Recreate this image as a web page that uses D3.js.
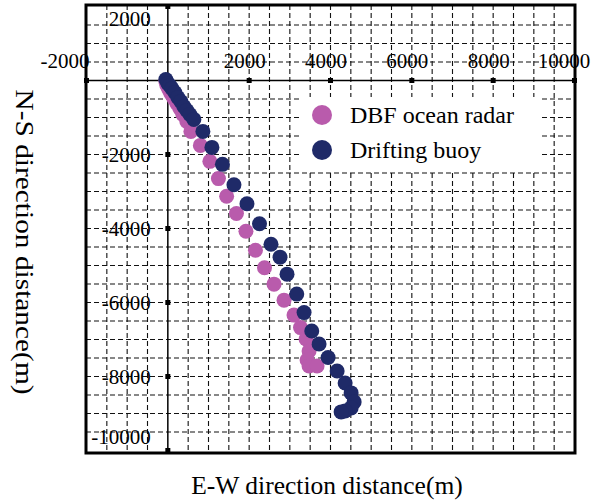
<!DOCTYPE html>
<html>
<head>
<meta charset="utf-8">
<script src="https://cdn.jsdelivr.net/npm/d3@7"></script>
<style>
  html, body { margin: 0; padding: 0; background: #fff; }
  svg { display: block; }
  text { font-family: "Liberation Serif", "Times New Roman", serif; fill: #000; }
</style>
</head>
<body>
<svg id="chart" width="594" height="504"></svg>
<script>
// ---- data (metres) ----
const seriesNames = ["DBF ocean radar", "Drifting buoy"];
const radarX = [-49, -25, 25, 74, 148, 222, 296, 369, 468, 567, 800, 1034, 1244, 1446, 1687, 1921, 2155, 2377, 2611, 2857, 3103, 3263, 3399, 3473, 3424, 3473, 3670];
const radarY = [-27, -135, -243, -351, -486, -621, -755, -917, -1106, -1376, -1754, -2185, -2652, -3130, -3596, -4074, -4587, -5059, -5504, -5936, -6340, -6678, -6988, -7311, -7554, -7716, -7716];
const buoyX = [-49, 0, 49, 99, 172, 246, 320, 394, 468, 542, 640, 862, 1084, 1342, 1626, 1946, 2254, 2537, 2759, 2931, 3170, 3350, 3539, 3719, 3941, 4163, 4360, 4507, 4581, 4507, 4360, 4261];
const buoyY = [27, -81, -135, -216, -324, -459, -567, -702, -809, -917, -1052, -1376, -1808, -2266, -2819, -3332, -3872, -4425, -4775, -5234, -5773, -6273, -6772, -7123, -7487, -7851, -8175, -8444, -8687, -8849, -8930, -8957];
const xTickValues = [-2000, 2000, 4000, 6000, 8000, 10000];
const yTickValues = [2000, -2000, -4000, -6000, -8000, -10000];
const xTitle = "E-W direction distance(m)";
const yTitle = "N-S direction distance(m)";

const colors = ["#b95bac", "#1f2a68"];

const svg = d3.select("#chart");
const x = d3.scaleLinear().domain([-2000, 10000]).range([86.5, 574.5]);
const y = d3.scaleLinear().domain([-10000, 2000]).range([450.5, 6.5]);
const pL = 86, pR = 575, pT = 5, pB = 453;
const fmt = d => String(d);

// grid
const grid = svg.append("g");
d3.range(-1500, 10000, 500).filter(v => v !== 0).forEach(v => {
  grid.append("line").attr("x1", x(v)).attr("x2", x(v)).attr("y1", pT).attr("y2", pB)
    .attr("stroke", "#111").attr("stroke-width", 1.1).attr("stroke-dasharray", "5,3");
});
d3.range(-9500, 2000, 500).filter(v => v !== 0).forEach(v => {
  grid.append("line").attr("x1", pL).attr("x2", pR).attr("y1", y(v)).attr("y2", y(v))
    .attr("stroke", "#111").attr("stroke-width", 1.1).attr("stroke-dasharray", "5,3");
});

// axes through origin
svg.append("line").attr("x1", pL).attr("x2", pR).attr("y1", y(0)).attr("y2", y(0))
  .attr("stroke", "#000").attr("stroke-width", 1.5);
svg.append("line").attr("x1", x(0)).attr("x2", x(0)).attr("y1", pT).attr("y2", pB)
  .attr("stroke", "#000").attr("stroke-width", 1.5);

// tick squares
const sq = 5;
xTickValues.concat([0]).forEach(v => {
  svg.append("rect").attr("x", x(v) - sq / 2).attr("y", y(0) - sq / 2).attr("width", sq).attr("height", sq).attr("fill", "#000");
});
yTickValues.forEach(v => {
  svg.append("rect").attr("x", x(0) - sq / 2).attr("y", y(v) - sq / 2).attr("width", sq).attr("height", sq).attr("fill", "#000");
});

// x tick labels (above the x axis)
const xAxis = d3.axisTop(x).tickValues(xTickValues).tickSize(0).tickPadding(13).tickFormat(fmt);
const gx = svg.append("g").attr("transform", `translate(0,${y(0)})`).call(xAxis);
gx.select(".domain").remove();
gx.selectAll("text").attr("font-size", 21).attr("font-family", "Liberation Serif").attr("fill", "#000")
  .attr("dx", d => d === -2000 ? -22 : d === 10000 ? -11 : -5);

// y tick labels (left of the y axis)
const yAxis = d3.axisLeft(y).tickValues(yTickValues).tickSize(0).tickPadding(17).tickFormat(fmt);
const gy = svg.append("g").attr("transform", `translate(${x(0)},0)`).call(yAxis);
gy.select(".domain").remove();
gy.selectAll("text").attr("font-size", 21).attr("font-family", "Liberation Serif").attr("fill", "#000")
  .attr("dy", d => d === 2000 ? "0.9em" : d === -10000 ? "-0.35em" : "0.32em");

// legend background
svg.append("rect").attr("x", 301).attr("y", 97).attr("width", 240).attr("height", 73).attr("fill", "#fff");

// points
const series = [
  { xs: radarX, ys: radarY, c: colors[0] },
  { xs: buoyX, ys: buoyY, c: colors[1] }
];
series.forEach(s => {
  svg.append("g").selectAll("circle").data(s.xs.map((v, i) => [v, s.ys[i]])).join("circle")
    .attr("cx", d => x(d[0])).attr("cy", d => y(d[1])).attr("r", 7.5).attr("fill", s.c);
});

// border
svg.append("rect").attr("x", pL).attr("y", pT).attr("width", pR - pL).attr("height", pB - pT)
  .attr("fill", "none").attr("stroke", "#000").attr("stroke-width", 3);

// legend
const legend = svg.append("g");
seriesNames.forEach((n, i) => {
  legend.append("circle").attr("cx", 322).attr("cy", 115 + i * 35).attr("r", 10).attr("fill", colors[i]);
  legend.append("text").attr("x", 350).attr("y", 123 + i * 35).attr("font-size", 24).text(n);
});

// axis titles
svg.append("text").attr("x", 327).attr("y", 494).attr("text-anchor", "middle").attr("font-size", 25.5).text(xTitle);
svg.append("text").attr("transform", "translate(16,242) rotate(90)").attr("text-anchor", "middle")
  .attr("font-size", 26).attr("textLength", 305).attr("lengthAdjust", "spacingAndGlyphs").text(yTitle);
</script>
</body>
</html>
